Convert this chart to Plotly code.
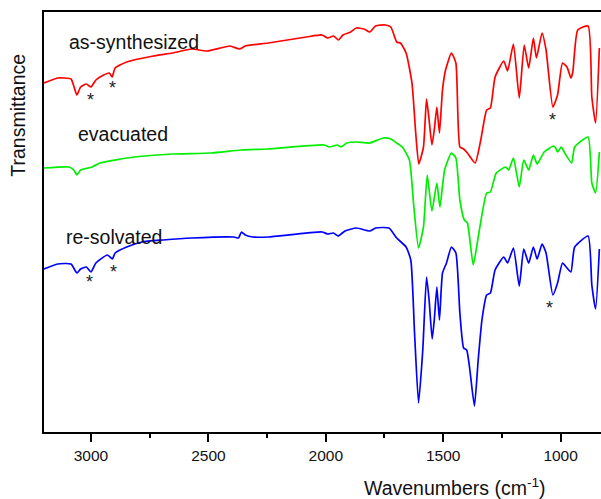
import plotly.graph_objects as go

# ---- data (wavenumber, cm-1 ; transmittance, arbitrary units, curves offset) ----
wn_as = [3200, 3142, 3085, 3072, 3060, 3044, 3020, 3000, 2979, 2946, 2922, 2910, 2897, 2848,
         2734, 2653, 2571, 2506, 2408, 2367, 2343, 2245, 2082, 2016, 1992, 1967, 1946, 1927,
         1894, 1870, 1837, 1813, 1788, 1747, 1723, 1698, 1682, 1658, 1633, 1617, 1604, 1584,
         1571, 1560, 1548, 1538, 1527, 1516, 1503, 1490, 1465, 1446, 1429, 1413, 1397, 1364,
         1340, 1315, 1299, 1279, 1242, 1226, 1201, 1176, 1155, 1136, 1116, 1103, 1079, 1062,
         1033, 1013, 992, 973, 956, 948, 927, 883, 867, 851, 835]
t_as = [349, 354, 353, 345, 337, 345, 348, 345, 352, 357, 359, 355, 364, 370,
        376, 379, 383, 381, 386, 383, 386, 389, 395, 397, 394, 396, 392, 397,
        400, 404, 403, 400, 406, 407, 405, 390, 389, 379, 349, 299, 268, 285,
        333, 312, 287, 302, 325, 299, 342, 362, 379, 369, 285, 283, 279, 269,
        292, 322, 324, 355, 371, 361, 388, 334, 387, 364, 394, 374, 399, 382,
        325, 337, 369, 365, 354, 360, 402, 406, 335, 309, 384]

wn_ev = [3200, 3093, 3073, 3060, 3044, 2995, 2962, 2816, 2653, 2489, 2359, 2245, 2008, 1984,
         1951, 1935, 1910, 1870, 1813, 1755, 1723, 1698, 1674, 1644, 1625, 1605, 1584, 1568,
         1548, 1527, 1514, 1494, 1465, 1446, 1429, 1410, 1397, 1372, 1348, 1315, 1299, 1274,
         1234, 1221, 1201, 1176, 1157, 1136, 1116, 1100, 1070, 1030, 1021, 1013, 997, 980,
         953, 940, 883, 867, 851, 835]
t_ev = [264, 265, 262, 257, 262, 265, 269, 275, 278, 279, 282, 283, 287, 285,
        287, 285, 289, 290, 289, 294, 293, 289, 285, 272, 225, 184, 205, 257,
        221, 249, 225, 262, 279, 274, 232, 212, 209, 167, 199, 239, 240, 259,
        265, 262, 274, 245, 272, 262, 277, 268, 280, 286, 284, 280, 285, 278,
        269, 285, 295, 249, 239, 280]

wn_re = [3200, 3142, 3085, 3060, 3044, 3020, 3000, 2979, 2930, 2909, 2897, 2848, 2783, 2693,
         2571, 2392, 2372, 2359, 2343, 2310, 2245, 2016, 1992, 1967, 1948, 1918, 1870, 1813,
         1788, 1731, 1698, 1658, 1638, 1622, 1605, 1587, 1571, 1560, 1547, 1538, 1527, 1516,
         1503, 1486, 1465, 1446, 1429, 1413, 1400, 1388, 1367, 1351, 1335, 1315, 1299, 1279,
         1242, 1226, 1201, 1176, 1157, 1136, 1116, 1100, 1079, 1062, 1033, 1013, 992, 976,
         956, 940, 883, 867, 851, 835]
t_re = [163, 168, 168, 159, 163, 165, 160, 169, 177, 173, 179, 185, 190, 192,
        194, 195, 194, 200, 197, 195, 195, 200, 198, 199, 196, 201, 204, 201,
        204, 204, 194, 185, 172, 99, 29, 82, 155, 132, 93, 112, 145, 112,
        159, 169, 185, 179, 119, 84, 82, 65, 26, 72, 112, 137, 139, 162,
        175, 169, 184, 146, 183, 169, 185, 173, 188, 179, 137, 149, 169, 165,
        160, 185, 196, 147, 123, 183]

series_names = ["as-synthesized", "evacuated", "re-solvated"]
series_colors = ["#ff0000", "#00ee00", "#0000ff"]
label_pos = [(2816, 390), (2863, 298), (2901, 195)]
star_pos = [(3000, 332), (2910, 344), (1033, 312), (3006, 150), (2903, 160), (1046, 124)]

x_ticks = [3000, 2500, 2000, 1500, 1000]

fig = go.Figure()
for wn, t, name, col in zip([wn_as, wn_ev, wn_re], [t_as, t_ev, t_re], series_names, series_colors):
    fig.add_trace(go.Scatter(x=wn, y=t, mode="lines", name=name,
                             line=dict(color=col, width=1.7, shape="spline", smoothing=0.5)))

anns = []
for (x, y), name in zip(label_pos, series_names):
    anns.append(dict(x=x, y=y, xref="x", yref="y", text=name, showarrow=False,
                     xanchor="center", yanchor="middle",
                     font=dict(size=19.5, color="#111")))
for x, y in star_pos:
    anns.append(dict(x=x, y=y, xref="x", yref="y", text="*", showarrow=False,
                     xanchor="center", yanchor="middle",
                     font=dict(size=18, color="#222")))
anns.append(dict(x=0.738, y=-0.131, xref="paper", yref="paper",
                 xanchor="center", yanchor="middle",
                 text="Wavenumbers (cm<sup>-1</sup>)", showarrow=False,
                 font=dict(size=19.5, color="#111")))
anns.append(dict(x=-0.047, y=0.755, xref="paper", yref="paper", text="Transmittance",
                 xanchor="center", yanchor="middle",
                 textangle=-90, showarrow=False, font=dict(size=19.5, color="#111")))

fig.update_layout(
    width=601, height=499,
    margin=dict(l=44, r=0, t=12, b=67, autoexpand=False),
    paper_bgcolor="white", plot_bgcolor="white",
    showlegend=False,
    font=dict(family="Liberation Sans, Arial, sans-serif", color="#111"),
    annotations=anns,
    xaxis=dict(range=[3200, 828], tickvals=x_ticks, ticks="outside", ticklen=8, tickwidth=1.5,
               tickcolor="black", showline=True, linecolor="black", linewidth=2, mirror=True,
               showgrid=False, zeroline=False, tickfont=dict(size=15.5, color="#111"),
               minor=dict(dtick=250, tick0=1000, ticks="outside", ticklen=4, tickwidth=1.5,
                          tickcolor="black", showgrid=False)),
    yaxis=dict(range=[0, 420], showticklabels=False, ticks="", showline=True,
               linecolor="black", linewidth=2, mirror=False, showgrid=False, zeroline=False),
)

fig.write_html(
    "out.html",
    config={"displayModeBar": False},
    post_script="document.body.style.margin='0';document.body.style.overflow='hidden';",
)
